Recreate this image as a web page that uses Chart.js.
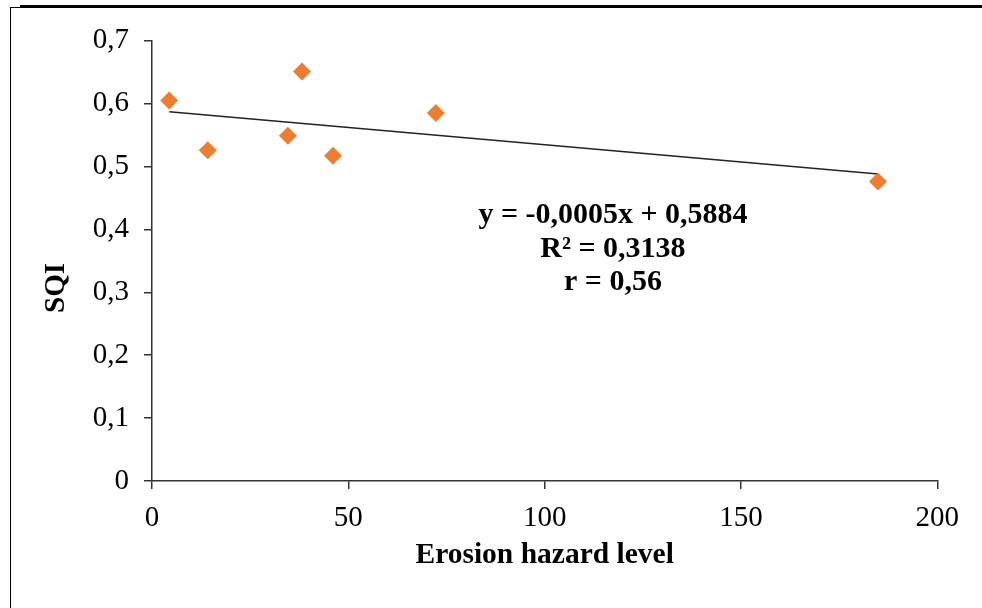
<!DOCTYPE html>
<html>
<head>
<meta charset="utf-8">
<script src="https://cdn.jsdelivr.net/npm/chart.js@4.4.1/dist/chart.umd.min.js"></script>
<style>
  html, body { margin: 0; padding: 0; background: #fff; overflow: hidden; }
  #wrap { position: relative; width: 982px; height: 608px; }
  #grafico { position: absolute; left: 0; top: 0; }
  .marco { position: absolute; left: 10px; top: 7px; width: 990px; height: 620px;
           border-left: 1.5px solid #000; border-top: 1.5px solid #000; pointer-events: none; }
  .raya { position: absolute; left: 20px; top: 5px; right: 0; height: 2.5px; background: #000; }
</style>
</head>
<body>
<div id="wrap">
  <canvas id="grafico" width="982" height="608"></canvas>
  <div class="marco"></div>
  <div class="raya"></div>
</div>
<script>
// datos
const erosion = [4.4, 14.2, 34.6, 38.2, 46.1, 72.3, 184.9];
const sqi = [0.605, 0.526, 0.549, 0.651, 0.517, 0.585, 0.476];

// linea de tendencia (extremos)
const trendX = [4.4, 184.9];
const trendY = [0.587, 0.488];

const xTicks = [0, 50, 100, 150, 200];
const yTicks = [0, 0.1, 0.2, 0.3, 0.4, 0.5, 0.6, 0.7];

const ecuacion = ['y = -0,0005x + 0,5884', 'R² = 0,3138', 'r = 0,56'];
const ecuacionX = 117.4;
const ecuacionY = 0.41;

// titulo del eje y (va algo por debajo del centro en el original)
const tituloY = 'SQI';
const tituloYValor = 0.307;

const fuente = '"Liberation Serif", "Times New Roman", serif';

const textos = {
  id: 'textos',
  afterDatasetsDraw(chart) {
    const { ctx, scales: { x, y } } = chart;
    const cx = x.getPixelForValue(ecuacionX);
    const cy = y.getPixelForValue(ecuacionY);
    ctx.save();
    ctx.font = 'bold 30px ' + fuente;
    ctx.fillStyle = '#000';
    ctx.textAlign = 'center';
    ctx.textBaseline = 'alphabetic';
    ecuacion.forEach((t, i) => ctx.fillText(t, cx, cy + i * 33.5));
    ctx.restore();

    // SQI girado
    ctx.save();
    ctx.translate(57, y.getPixelForValue(tituloYValor));
    ctx.rotate(-Math.PI / 2);
    ctx.font = 'bold 29px ' + fuente;
    ctx.fillStyle = '#000';
    ctx.textAlign = 'center';
    ctx.textBaseline = 'middle';
    ctx.fillText(tituloY, 0, 0);
    ctx.restore();
  }
};

const ctx = document.getElementById('grafico').getContext('2d');

new Chart(ctx, {
  type: 'scatter',
  data: {
    datasets: [
      {
        label: 'SQI',
        data: erosion.map((v, i) => ({ x: v, y: sqi[i] })),
        pointStyle: 'rectRot',
        pointRadius: 9,
        pointHoverRadius: 9,
        backgroundColor: '#ED7D31',
        borderWidth: 0
      },
      {
        type: 'line',
        label: 'Tendencia',
        data: trendX.map((v, i) => ({ x: v, y: trendY[i] })),
        borderColor: '#222',
        borderWidth: 1.4,
        pointRadius: 0,
        fill: false
      }
    ]
  },
  options: {
    responsive: false,
    animation: false,
    devicePixelRatio: 1,
    layout: { padding: { left: 0, right: 44.7, top: 40.7, bottom: 0 } },
    plugins: {
      legend: { display: false },
      tooltip: { enabled: false }
    },
    scales: {
      x: {
        type: 'linear',
        min: 0,
        max: 200,
        afterBuildTicks: s => { s.ticks = xTicks.map(v => ({ value: v })); },
        afterFit: s => { s.height = 127; },
        grid: { drawOnChartArea: false, drawTicks: true, tickLength: 8, color: '#333', lineWidth: 1.5 },
        border: { color: '#333', width: 1.5 },
        ticks: {
          color: '#000',
          padding: 12,
          maxRotation: 0,
          font: { family: fuente, size: 29 },
          callback: v => String(v)
        },
        title: {
          display: true,
          text: 'Erosion hazard level',
          color: '#000',
          font: { family: fuente, size: 29.5, weight: 'bold' },
          padding: { top: 0, bottom: 35 }
        }
      },
      y: {
        type: 'linear',
        min: 0,
        max: 0.7,
        afterBuildTicks: s => { s.ticks = yTicks.map(v => ({ value: v })); },
        afterFit: s => { s.width = 152; },
        grid: { drawOnChartArea: false, drawTicks: true, tickLength: 8, color: '#333', lineWidth: 1.5 },
        border: { color: '#333', width: 1.5 },
        ticks: {
          color: '#000',
          padding: 15,
          font: { family: fuente, size: 29 },
          callback: v => v === 0 ? '0' : v.toFixed(1).replace('.', ',')
        }
      }
    }
  },
  plugins: [textos]
});
</script>
</body>
</html>
